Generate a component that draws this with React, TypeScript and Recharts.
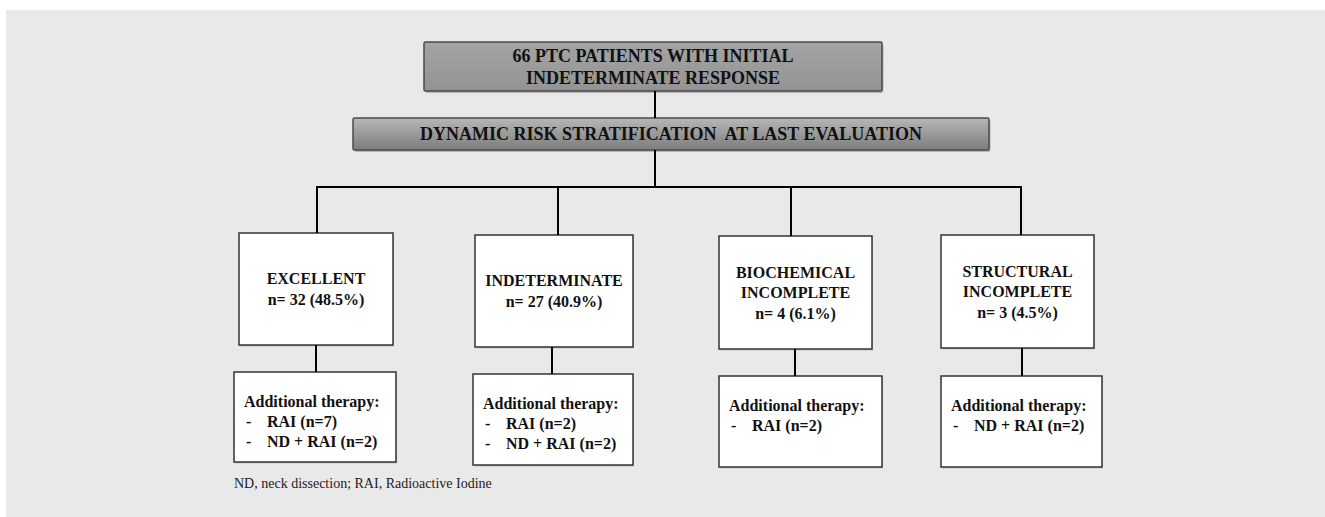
import React from "react";
import {
  ComposedChart,
  XAxis,
  YAxis,
  ReferenceArea,
  ReferenceLine,
} from "recharts";

const W = 1325;
const H = 517;

// chart content
const rootTitle = ["66 PTC PATIENTS WITH INITIAL", "INDETERMINATE RESPONSE"];
const stageTitle = "DYNAMIC RISK STRATIFICATION  AT LAST EVALUATION";
const responses = [
  ["EXCELLENT"],
  ["INDETERMINATE"],
  ["BIOCHEMICAL", "INCOMPLETE"],
  ["STRUCTURAL", "INCOMPLETE"],
];
const patients = [32, 27, 4, 3];
const shares = [48.5, 40.9, 6.1, 4.5];
const therapyHeader = "Additional therapy:";
const therapies = [
  ["RAI (n=7)", "ND + RAI (n=2)"],
  ["RAI (n=2)", "ND + RAI (n=2)"],
  ["RAI (n=2)"],
  ["ND + RAI (n=2)"],
];
const footnote = "ND, neck dissection; RAI, Radioactive Iodine";

// layout (page pixels = axis units)
const rootBox = { x1: 424, x2: 882, y1: 42, y2: 91 };
const stageBox = { x1: 353, x2: 989, y1: 118, y2: 150 };
const trunkX = 655;
const busY = 187;
const cols = [
  { stem: 317, box: [239, 393, 233, 345], link: 316, sub: [234, 396, 372, 462] },
  { stem: 558, box: [475, 633, 235, 347], link: 552, sub: [473, 633, 374, 465] },
  { stem: 791, box: [719, 872, 236, 349], link: 795, sub: [719, 882, 376, 467] },
  { stem: 1021, box: [941, 1094, 235, 348], link: 1022, sub: [941, 1102, 376, 467] },
];

const serif = "'Liberation Serif', 'Times New Roman', serif";
const ink = "#111";

const grayBox = (id: string, top: string, bottom: string, lines: string[], gap: number) =>
  (p: any) => {
    const cx = p.x + p.width / 2;
    const cy = p.y + p.height / 2;
    return (
      <g>
        <defs>
          <linearGradient id={id} x1="0" y1="0" x2="0" y2="1">
            <stop offset="0%" stopColor={top} />
            <stop offset="100%" stopColor={bottom} />
          </linearGradient>
        </defs>
        <rect x={p.x + 1.5} y={p.y + 2} width={p.width} height={p.height} fill="rgba(0,0,0,0.22)" rx={2} />
        <rect x={p.x} y={p.y} width={p.width} height={p.height} fill={`url(#${id})`} stroke="#4a4a4a" strokeWidth={1.5} rx={1.5} />
        {lines.map((t, i) => (
          <text
            key={i}
            x={cx}
            y={cy + (i - (lines.length - 1) / 2) * gap}
            textAnchor="middle"
            dominantBaseline="central"
            fontFamily={serif}
            fontWeight="bold"
            fontSize={18}
            fill={ink}
            style={{ whiteSpace: "pre" }}
          >
            {t}
          </text>
        ))}
      </g>
    );
  };

const whiteBox = (render: (p: any) => React.ReactNode) => (p: any) => (
  <g>
    <rect x={p.x + 1} y={p.y + 1.5} width={p.width} height={p.height} fill="rgba(0,0,0,0.15)" />
    <rect x={p.x} y={p.y} width={p.width} height={p.height} fill="#fff" stroke="#333" strokeWidth={1.5} />
    {render(p)}
  </g>
);

const boldText = {
  fontFamily: serif,
  fontWeight: "bold" as const,
  fontSize: 16,
  fill: ink,
  dominantBaseline: "central" as const,
};

const line = (x1: number, y1: number, x2: number, y2: number, key: string) => (
  <ReferenceLine
    key={key}
    segment={[
      { x: x1, y: y1 },
      { x: x2, y: y2 },
    ]}
    stroke="#000"
    strokeWidth={2}
  />
);

export default function App() {
  return (
    <div style={{ position: "absolute", left: 0, top: 0, width: W, height: H, background: "#fff" }}>
      <ComposedChart width={W} height={H} margin={{ top: 0, right: 0, bottom: 0, left: 0 }}>
        <XAxis type="number" dataKey="x" domain={[0, W]} hide allowDataOverflow />
        <YAxis type="number" dataKey="y" domain={[0, H]} reversed hide allowDataOverflow />

        <ReferenceArea x1={6} x2={W} y1={10} y2={H} fill="#e9e9e9" fillOpacity={1} stroke="none" />

        {line(trunkX, rootBox.y2, trunkX, stageBox.y1, "t1")}
        {line(trunkX, stageBox.y2, trunkX, busY, "t2")}
        {line(cols[0].stem - 1, busY, cols[3].stem + 1, busY, "bus")}
        {cols.map((c, i) => line(c.stem, busY, c.stem, c.box[2], `s${i}`))}
        {cols.map((c, i) => line(c.link, c.box[3], c.link, c.sub[2], `l${i}`))}

        <ReferenceArea
          {...rootBox}
          shape={grayBox("gRoot", "#a4a4a4", "#939393", rootTitle, 22)}
        />
        <ReferenceArea
          {...stageBox}
          shape={grayBox("gStage", "#b7b7b7", "#7c7c7c", [stageTitle], 0)}
        />

        {cols.map((c, i) => {
          const lines = [...responses[i], `n= ${patients[i]} (${shares[i]}%)`];
          return (
            <ReferenceArea
              key={`r${i}`}
              x1={c.box[0]}
              x2={c.box[1]}
              y1={c.box[2]}
              y2={c.box[3]}
              shape={whiteBox((p) =>
                lines.map((t, j) => (
                  <text
                    key={j}
                    x={p.x + p.width / 2}
                    y={p.y + p.height / 2 + (j - (lines.length - 1) / 2) * 20.5}
                    textAnchor="middle"
                    {...boldText}
                  >
                    {t}
                  </text>
                ))
              )}
            />
          );
        })}

        {cols.map((c, i) => (
          <ReferenceArea
            key={`a${i}`}
            x1={c.sub[0]}
            x2={c.sub[1]}
            y1={c.sub[2]}
            y2={c.sub[3]}
            shape={whiteBox((p) => (
              <>
                <text x={p.x + 10} y={p.y + 29} {...boldText}>
                  {therapyHeader}
                </text>
                {therapies[i].map((t, j) => (
                  <g key={j}>
                    <text x={p.x + 12} y={p.y + 49 + j * 20} {...boldText}>
                      -
                    </text>
                    <text x={p.x + 33} y={p.y + 49 + j * 20} {...boldText}>
                      {t}
                    </text>
                  </g>
                ))}
              </>
            ))}
          />
        ))}

        <ReferenceArea
          x1={234}
          x2={520}
          y1={474}
          y2={492}
          shape={(p: any) => (
            <text
              x={p.x}
              y={p.y + p.height / 2}
              fontFamily={serif}
              fontSize={14}
              fill="#222"
              dominantBaseline="central"
            >
              {footnote}
            </text>
          )}
        />
      </ComposedChart>
    </div>
  );
}
